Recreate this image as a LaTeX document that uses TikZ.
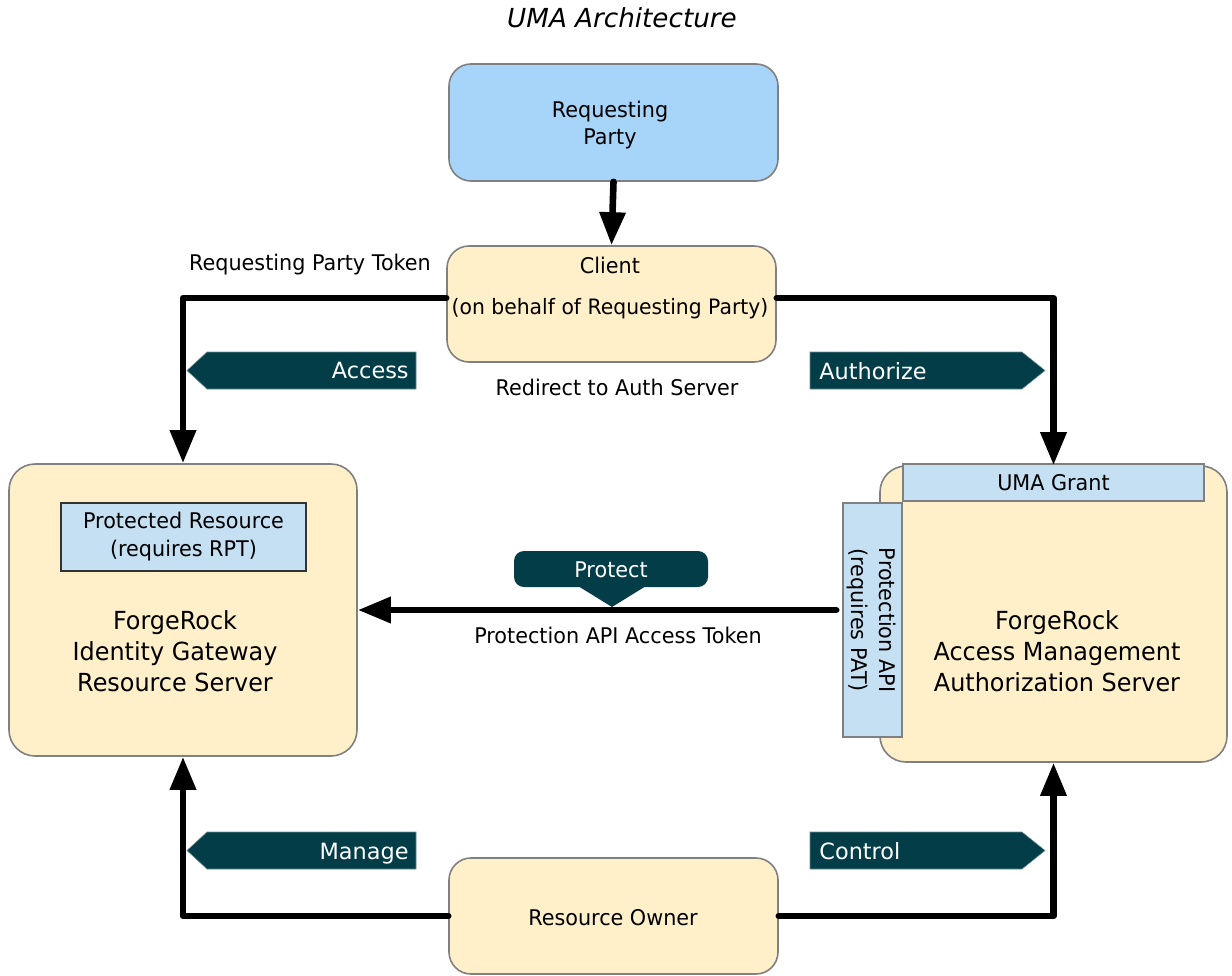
\documentclass[tikz,border=0pt]{standalone}
\usepackage{fontspec}
\setmainfont{DejaVu Sans}[FakeStretch=0.96]
\newfontfamily\titlefont{DejaVu Sans}
\usetikzlibrary{arrows.meta,positioning,calc}
\definecolor{cream}{HTML}{FFF0C9}
\definecolor{rpblue}{HTML}{A7D5FA}
\definecolor{lblue}{HTML}{C6E0F3}
\definecolor{teal}{HTML}{033D47}
\definecolor{edgegray}{HTML}{808080}
\tikzset{
  bigbox/.style={draw=edgegray, line width=0.8pt, rounded corners=11pt, fill=cream, inner sep=0pt},
  subbox/.style={draw=edgegray, line width=0.8pt, fill=lblue, inner sep=0pt, font=\fontsize{10.8pt}{14pt}\selectfont, align=center},
  lbl/.style={font=\fontsize{10.8pt}{14pt}\selectfont, align=center, inner sep=0pt},
  biglbl/.style={font=\fontsize{12.45pt}{15.5pt}\selectfont, align=center, inner sep=0pt},
  bannertxt/.style={font=\titlefont\fontsize{11.2pt}{13pt}\selectfont, text=white, inner sep=0pt},
  conn/.style={line width=3.3pt, line cap=round, line join=round, -{Triangle[length=16.5pt,width=12.5pt]}},
  bannerfill/.style={fill=teal, draw=teal!60, line width=0.3pt},
}
\begin{document}
\begin{tikzpicture}[x=0.5pt, y=-0.5pt]
\useasboundingbox (0,0) rectangle (1232,975);

% title
\node[font=\titlefont\itshape\fontsize{13.1pt}{15pt}\selectfont, inner sep=0pt] (title) at (622,18) {UMA Architecture};

% boxes
\node[bigbox, fill=rpblue, minimum width=164.5pt, minimum height=58.5pt] (rp) at (613.5,122.5) {};
\node[lbl, font=\fontsize{10.8pt}{13.5pt}\selectfont] (rptext) at (610,125) {Requesting\\Party};

\node[bigbox, minimum width=164.5pt, minimum height=58pt] (client) at (611.5,304) {};
\node[lbl] (clienttitle) at (610,265) {Client};
\node[lbl, font=\fontsize{10.6pt}{14pt}\selectfont] (clientsub) at (610,309) {(on behalf of Requesting Party)};

\node[bigbox, rounded corners=13pt, minimum width=174pt, minimum height=146pt] (ig) at (183,610) {};
\node[subbox, draw=black!80, minimum width=122.5pt, minimum height=34pt] (pres) at (183.5,537) {Protected Resource\\(requires RPT)};
\node[biglbl] (igtext) at (175,651) {ForgeRock\\Identity Gateway\\Resource Server};

\node[bigbox, rounded corners=13pt, minimum width=173.5pt, minimum height=148pt] (am) at (1053.5,614) {};
\node[subbox, minimum width=150.5pt, minimum height=18.5pt] (grant) at (1053.5,482.5) {UMA Grant};
\node[subbox, minimum width=29.5pt, minimum height=117pt] (papi) at (872.5,620) {};
\node[lbl, rotate=-90] (papitext) at (871,620) {Protection API\\(requires PAT)};
\node[biglbl] (amtext) at (1057,651) {ForgeRock\\Access Management\\Authorization Server};

\node[bigbox, minimum width=164.5pt, minimum height=58pt] (owner) at (613.5,916) {};
\node[lbl] (ownertext) at (613,918) {Resource Owner};

% connectors
\draw[conn] (rp.south) -- (client.north);
\draw[conn] ([yshift=3pt]client.west) -| (ig.north);
\draw[conn] ([yshift=3pt]client.east) -| (am.north);
\draw[conn] (owner.west) -| (ig.south);
\draw[conn] (owner.east) -| (am.south);
\draw[conn] ([xshift=-3pt]papi.west |- ig.east) -- (ig.east);

% connector labels
\node[lbl] (rpt) at (310,265) {Requesting Party Token};
\node[lbl] (redirect) at (617,387) {Redirect to Auth Server};
\node[lbl] (pat) at (618,635) {Protection API Access Token};

% banners
\path[bannerfill] (187,370.5) -- (207,352) -- (416,352) -- (416,389) -- (207,389) -- cycle;
\node[bannertxt, anchor=base east] (access) at (409,378) {Access};
\path[bannerfill] (810,352) -- (1022,352) -- (1045,370.5) -- (1022,389) -- (810,389) -- cycle;
\node[bannertxt, anchor=base west] (authorize) at (819,379) {Authorize};
\path[bannerfill] (187,850.5) -- (207,832) -- (416,832) -- (416,869) -- (207,869) -- cycle;
\node[bannertxt, anchor=base east] (manage) at (409,859) {Manage};
\path[bannerfill] (810,832) -- (1022,832) -- (1045,850.5) -- (1022,869) -- (810,869) -- cycle;
\node[bannertxt, anchor=base west] (control) at (819,859) {Control};

% protect callout
\fill[teal, rounded corners=5pt] (514,551) rectangle (708,587);
\fill[teal] (578,586) -- (646,586) -- (612,607) -- cycle;
\node[lbl, text=white] (protect) at (611,570) {Protect};
\end{tikzpicture}
\end{document}
